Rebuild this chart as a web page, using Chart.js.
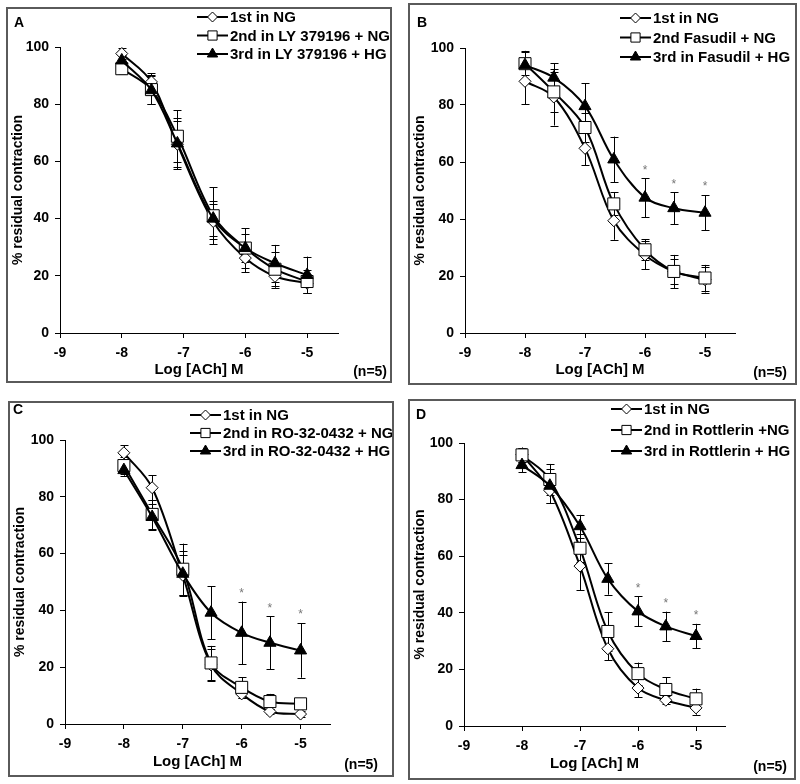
<!DOCTYPE html>
<html>
<head>
<meta charset="utf-8">
<script src="https://cdn.jsdelivr.net/npm/chart.js@4.4.1/dist/chart.umd.min.js"></script>
<style>
body { margin: 0; background: #fff; width: 800px; height: 784px; position: relative; overflow: hidden; }
.panel { position: absolute; border: 2px solid #5a5a5a; box-sizing: border-box; background: #fff; }
.panel canvas { position: absolute; left: 0; top: 0; }
</style>
</head>
<body>
<div class="panel" id="pA"><canvas id="cA"></canvas></div>
<div class="panel" id="pB"><canvas id="cB"></canvas></div>
<div class="panel" id="pC"><canvas id="cC"></canvas></div>
<div class="panel" id="pD"><canvas id="cD"></canvas></div>
<script>
// log [ACh] concentrations
const dosesA = [-8, -7.52, -7.1, -6.52, -6, -5.52, -5];
const doses = [-8, -7.52, -7, -6.52, -6, -5.52, -5];
const xTicks = [-9, -8, -7, -6, -5];
const yTicks = [0, 20, 40, 60, 80, 100];

// panel A - LY 379196
const labelsA = ['1st in NG', '2nd in LY 379196 + NG', '3rd in LY 379196 + HG'];
const a1 = [97.7, 87.8, 66.0, 39.0, 26.2, 19.8, 17.4];
const a1err = [2, 3, 8, 6, 5, 4, 3.4];
const a2 = [92.4, 85.1, 68.8, 41.0, 29.7, 22.3, 18.0];
const a2err = [2, 5, 9, 10, 7, 6, 4];
const a3 = [95.3, 84.9, 66.3, 40.0, 29.7, 24.4, 20.3];
const a3err = [2, 5, 9, 6, 5, 6.4, 6.4];
const starsA = [0, 0, 0, 0, 0, 0, 0];

// panel B - Fasudil
const labelsB = ['1st in NG', '2nd Fasudil + NG', '3rd in Fasudil + HG'];
const b1 = [88.3, 82.8, 64.8, 39.4, 27.4, 21.6, 18.7];
const b1err = [8, 10, 6, 6.7, 5, 4.4, 4.5];
const b2 = [94.5, 84.6, 72.1, 45.3, 29.2, 21.6, 19.3];
const b2err = [4, 7, 5, 4, 3.7, 5.8, 4.6];
const b3 = [94.0, 89.6, 79.6, 60.9, 47.5, 43.8, 42.2];
const b3err = [5, 5, 8, 8, 6.8, 5.6, 6.2];
const starsB = [0, 0, 0, 0, 1, 1, 1];

// panel C - RO-32-0432
const labelsC = ['1st in NG', '2nd in RO-32-0432 + NG', '3rd in RO-32-0432 + HG'];
const c1 = [95.5, 83.2, 52.4, 20.8, 10.6, 4.4, 3.5];
const c1err = [2.7, 4.4, 7, 5.5, 1.6, 1, 1];
const c2 = [91.0, 73.8, 54.5, 21.5, 12.9, 7.9, 7.1];
const c2err = [3, 5, 9, 6, 3.6, 2.7, 1.5];
const c3 = [89.4, 72.9, 52.9, 39.2, 32.1, 28.6, 25.9];
const c3err = [2, 4.7, 8, 9.3, 11, 9.3, 9.6];
const starsC = [0, 0, 0, 0, 1, 1, 1];

// panel D - Rottlerin
const labelsD = ['1st in NG', '2nd in Rottlerin +NG', '3rd in Rottlerin + HG'];
const d1 = [95.9, 83.2, 56.5, 27.3, 13.4, 9.1, 6.4];
const d1err = [2.5, 4.5, 8.6, 4, 3.2, 1.5, 2.4];
const d2 = [95.8, 87.1, 62.8, 33.4, 18.5, 12.9, 9.6];
const d2err = [2.5, 5.5, 5, 6.8, 3.9, 4.4, 3.6];
const d3 = [92.2, 84.9, 70.6, 52.0, 40.5, 35.2, 31.8];
const d3err = [2.5, 6, 4, 5.6, 5.3, 5.2, 4.3];
const starsD = [0, 0, 0, 0, 1, 1, 1];

const FONT = '"Liberation Sans", Arial, Helvetica, sans-serif';

// drawing styles of the three series
const styles = [
    { pointStyle: 'rectRot', radius: 6, fill: '#ffffff', legendRadius: 5 },
    { pointStyle: 'rect', radius: 8.5, fill: '#ffffff', legendRadius: 6.5 },
    { pointStyle: 'triangle', radius: 7, fill: '#000000', legendRadius: 6 }
];

function drawMarker(ctx, style, r, x, y) {
    ctx.save();
    ctx.fillStyle = style.fill;
    ctx.strokeStyle = '#000';
    ctx.lineWidth = 1;
    if (Chart.helpers && Chart.helpers.drawPoint) {
        Chart.helpers.drawPoint(ctx, { pointStyle: style.pointStyle, radius: r, rotation: 0, borderWidth: 1 }, x, y);
    } else {
        ctx.beginPath();
        ctx.arc(x, y, r, 0, Math.PI * 2);
        ctx.fill();
        ctx.stroke();
    }
    ctx.restore();
}

// vertical error bars with caps, drawn under the markers
const errorBarPlugin = {
    id: 'errorBars',
    beforeDatasetsDraw(chart) {
        const ctx = chart.ctx;
        const xs = chart.scales.x, ys = chart.scales.y;
        ctx.save();
        ctx.strokeStyle = '#000';
        ctx.lineWidth = 1;
        chart.data.datasets.forEach(ds => {
            ds.data.forEach((p, i) => {
                const e = ds.errors[i];
                const px = Math.round(xs.getPixelForValue(p.x)) + 0.5;
                const top = ys.getPixelForValue(p.y + e);
                const bot = ys.getPixelForValue(p.y - e);
                ctx.beginPath();
                ctx.moveTo(px, top); ctx.lineTo(px, bot);
                ctx.moveTo(px - 4, Math.round(top) + 0.5); ctx.lineTo(px + 4, Math.round(top) + 0.5);
                ctx.moveTo(px - 4, Math.round(bot) + 0.5); ctx.lineTo(px + 4, Math.round(bot) + 0.5);
                ctx.stroke();
            });
        });
        ctx.restore();
    }
};

// panel letter, legend, n label and significance stars
const decoPlugin = {
    id: 'panelDeco',
    afterDraw(chart, args, opts) {
        const ctx = chart.ctx;
        const xs = chart.scales.x, ys = chart.scales.y;
        ctx.save();
        ctx.fillStyle = '#000';
        ctx.font = 'bold 14px ' + FONT;
        ctx.textBaseline = 'middle';
        ctx.textAlign = 'left';
        ctx.fillText(opts.letter, opts.letterPos[0], opts.letterPos[1]);
        ctx.textAlign = 'right';
        ctx.fillText('(n=5)', opts.nPos[0], opts.nPos[1]);

        // legend
        const lg = opts.legend;
        chart.data.datasets.forEach((ds, i) => {
            const y = lg.y + i * lg.step;
            ctx.strokeStyle = '#000';
            ctx.lineWidth = 2;
            ctx.beginPath();
            ctx.moveTo(lg.x, y); ctx.lineTo(lg.x + lg.len, y);
            ctx.stroke();
            drawMarker(ctx, styles[i], styles[i].legendRadius, lg.x + lg.len / 2, y);
            ctx.fillStyle = '#000';
            ctx.textAlign = 'left';
            ctx.font = 'bold 15px ' + FONT;
            ctx.fillText(ds.label, lg.x + lg.len + 2, y + 1);
        });

        // stars over the HG series
        const hg = chart.data.datasets[2];
        ctx.fillStyle = '#777';
        ctx.font = '12px ' + FONT;
        ctx.textAlign = 'center';
        opts.stars.forEach((s, i) => {
            if (!s) return;
            const p = hg.data[i];
            ctx.fillText('*', xs.getPixelForValue(p.x), ys.getPixelForValue(p.y + hg.errors[i]) - 8);
        });
        ctx.restore();
    }
};

function makePanel(key, box, axis, deco, x, series, labels, stars) {
    const div = document.getElementById('p' + key);
    div.style.left = box.l + 'px';
    div.style.top = box.t + 'px';
    div.style.width = box.w + 'px';
    div.style.height = box.h + 'px';
    const W = box.w - 4, H = box.h - 4;
    const ox = box.l + 2, oy = box.t + 2;
    const canvas = document.getElementById('c' + key);
    canvas.width = W; canvas.height = H;
    canvas.style.width = W + 'px'; canvas.style.height = H + 'px';

    const areaLeft = axis.x0 - ox, areaRight = axis.x1 - ox;
    const areaTop = axis.y100 - oy, areaBottom = axis.y0 - oy;
    const titlePadBottom = Math.max(0, H - (axis.titleY - oy) - 9);

    const datasets = series.map((s, i) => ({
        label: labels[i],
        data: x.map((v, j) => ({ x: v, y: s.values[j] })),
        errors: s.errors,
        borderColor: '#000',
        borderWidth: 2,
        pointStyle: styles[i].pointStyle,
        pointRadius: styles[i].radius,
        pointBackgroundColor: styles[i].fill,
        pointBorderColor: '#000',
        pointBorderWidth: 1,
        tension: 0.35,
        fill: false,
        order: 2 - i
    }));

    new Chart(canvas.getContext('2d'), {
        type: 'line',
        data: { datasets: datasets },
        options: {
            responsive: false,
            animation: false,
            devicePixelRatio: 1,
            layout: { padding: { left: 0, top: areaTop, right: W - areaRight, bottom: 0 } },
            plugins: {
                legend: { display: false },
                tooltip: { enabled: false },
                panelDeco: {
                    letter: key,
                    letterPos: [deco.letter[0] - ox, deco.letter[1] - oy],
                    nPos: [deco.n[0] - ox, deco.n[1] - oy],
                    legend: { x: deco.legend[0] - ox, y: deco.legend[1] - oy, len: 31, step: deco.legend[2] },
                    stars: stars
                }
            },
            scales: {
                x: {
                    type: 'linear',
                    min: -9,
                    max: -4.5,
                    afterFit: s => { s.height = H - areaBottom; },
                    afterBuildTicks: s => { s.ticks = xTicks.map(v => ({ value: v })); },
                    ticks: { stepSize: 1, includeBounds: false, color: '#000', padding: 7,
                        font: { family: FONT, size: 14, weight: 'bold' }, maxRotation: 0 },
                    grid: { drawOnChartArea: false, drawTicks: true, tickLength: 5, color: '#000' },
                    border: { color: '#000', width: 1 },
                    title: { display: true, text: 'Log [ACh] M', color: '#000',
                        font: { family: FONT, size: 15, weight: 'bold' },
                        padding: { top: 0, bottom: titlePadBottom } }
                },
                y: {
                    min: 0,
                    max: 100,
                    afterFit: s => { s.width = areaLeft; },
                    afterBuildTicks: s => { s.ticks = yTicks.map(v => ({ value: v })); },
                    ticks: { stepSize: 20, color: '#000', padding: 6,
                        font: { family: FONT, size: 14, weight: 'bold' } },
                    grid: { drawOnChartArea: false, drawTicks: true, tickLength: 5, color: '#000' },
                    border: { color: '#000', width: 1 },
                    title: { display: true, text: '% residual contraction', color: '#000',
                        font: { family: FONT, size: 14, weight: 'bold' },
                        padding: { top: 2, bottom: 0 } }
                }
            }
        },
        plugins: [errorBarPlugin, decoPlugin]
    });
}

makePanel('A',
    { l: 6, t: 7, w: 386, h: 376 },
    { x0: 60, x1: 338, y100: 47, y0: 333, titleY: 370 },
    { letter: [14, 23], n: [387, 372], legend: [197, 17, 18.5] },
    dosesA,
    [{ values: a1, errors: a1err }, { values: a2, errors: a2err }, { values: a3, errors: a3err }],
    labelsA, starsA);

makePanel('B',
    { l: 408, t: 3, w: 389, h: 382 },
    { x0: 465, x1: 735, y100: 48, y0: 333, titleY: 370 },
    { letter: [417, 23], n: [787, 373], legend: [620, 18, 19.5] },
    doses,
    [{ values: b1, errors: b1err }, { values: b2, errors: b2err }, { values: b3, errors: b3err }],
    labelsB, starsB);

makePanel('C',
    { l: 8, t: 401, w: 386, h: 376 },
    { x0: 65, x1: 330, y100: 440, y0: 724, titleY: 762 },
    { letter: [13, 410], n: [378, 765], legend: [190, 415, 18] },
    doses,
    [{ values: c1, errors: c1err }, { values: c2, errors: c2err }, { values: c3, errors: c3err }],
    labelsC, starsC);

makePanel('D',
    { l: 408, t: 399, w: 388, h: 381 },
    { x0: 464, x1: 725, y100: 443, y0: 726, titleY: 764 },
    { letter: [416, 415], n: [787, 767], legend: [611, 409, 21] },
    doses,
    [{ values: d1, errors: d1err }, { values: d2, errors: d2err }, { values: d3, errors: d3err }],
    labelsD, starsD);
</script>
</body>
</html>
